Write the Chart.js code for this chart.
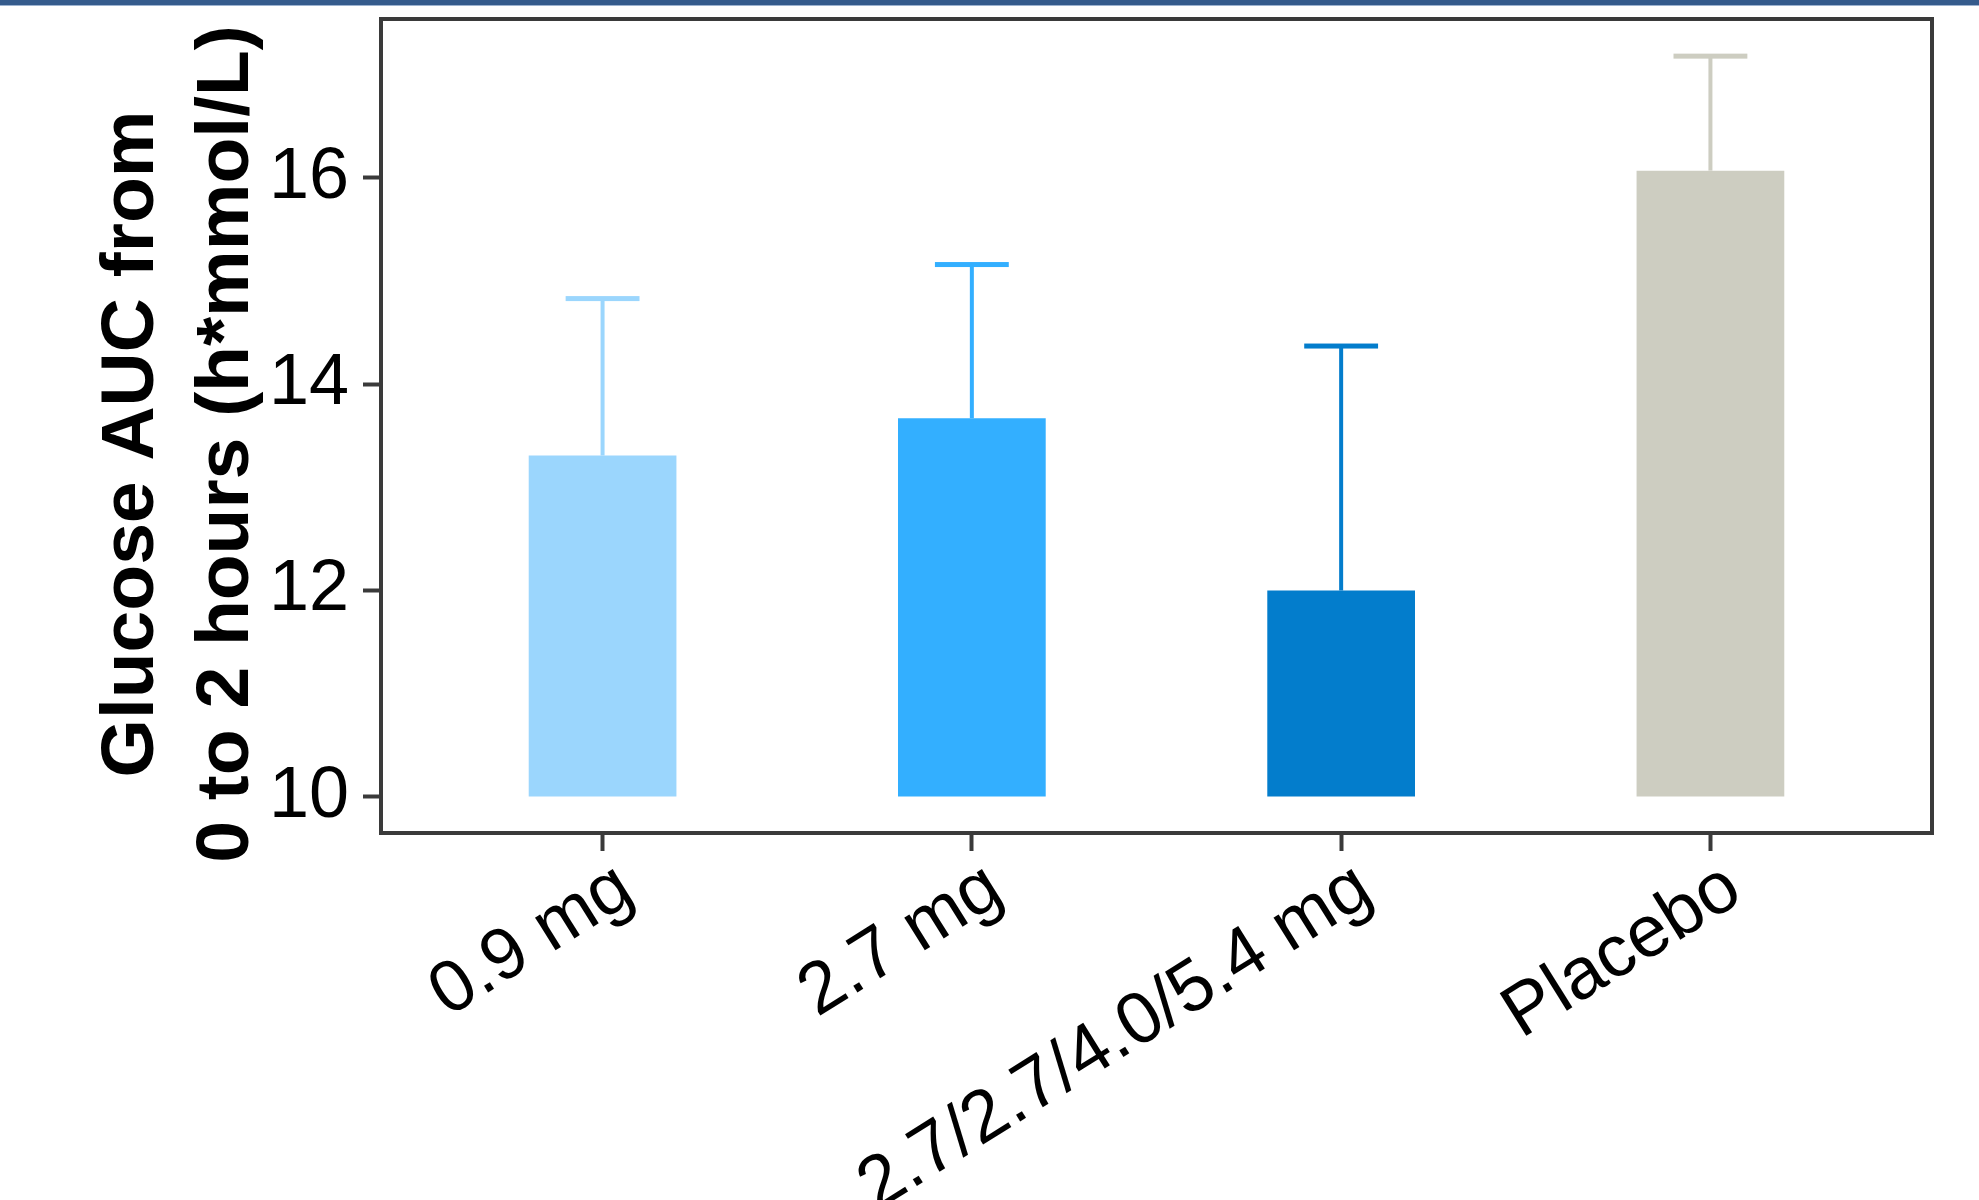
<!DOCTYPE html>
<html>
<head>
<meta charset="utf-8">
<script src="https://cdn.jsdelivr.net/npm/chart.js@4.4.1/dist/chart.umd.min.js"></script>
<style>
  html, body { margin: 0; padding: 0; background: #ffffff; }
  #wrap { position: relative; width: 1979px; height: 1200px; overflow: hidden; }
  #band { position: absolute; left: 0; top: 0; width: 1979px; height: 5px; background: #355b8c; border-bottom: 1px solid #9db3d0; z-index: 2; }
  canvas { position: absolute; left: 0; top: 0; }
</style>
</head>
<body>
<div id="wrap">
  <div id="band"></div>
  <canvas id="c" width="1979" height="1200"></canvas>
</div>
<script>
// ---- data ----
const categories = ['0.9 mg', '2.7 mg', '2.7/2.7/4.0/5.4 mg', 'Placebo'];
const meanValues = [13.31, 13.67, 12.00, 16.07];
const upperValues = [14.83, 15.16, 14.37, 17.18];
const barColors = ['#9bd6fd', '#33afff', '#037dcc', '#cdcdc1'];
const yTickValues = [10, 12, 14, 16];
const baseline = 10;
const yTitleLines = ['Glucose AUC from', '0 to 2 hours (h*mmol/L)'];

const FONT = "'Liberation Sans', Arial, Helvetica, sans-serif";
const AXIS = '#3a3a3a';

const errorBars = {
  id: 'errorBars',
  afterDatasetsDraw(chart) {
    const ctx = chart.ctx;
    const meta = chart.getDatasetMeta(0);
    const ys = chart.scales.y;
    ctx.save();
    meta.data.forEach((bar, i) => {
      const yTop = ys.getPixelForValue(upperValues[i]);
      const yBar = ys.getPixelForValue(meanValues[i]);
      const half = bar.width / 4;
      ctx.strokeStyle = barColors[i];
      ctx.fillStyle = barColors[i];
      ctx.lineWidth = 4;
      ctx.beginPath();
      ctx.moveTo(bar.x, yBar);
      ctx.lineTo(bar.x, yTop);
      ctx.stroke();
      ctx.fillRect(bar.x - half, yTop - 2.5, half * 2, 5);
    });
    ctx.restore();
  }
};

const frame = {
  id: 'frame',
  afterDraw(chart) {
    const {ctx, chartArea: a} = chart;
    ctx.save();
    ctx.strokeStyle = AXIS;
    ctx.lineWidth = 4;
    ctx.strokeRect(a.left, a.top, a.right - a.left, a.bottom - a.top);
    ctx.restore();
  }
};

// y-axis title, two bold lines, centred slightly below the plot centre as in the original
const yTitle = {
  id: 'yTitle',
  afterDraw(chart) {
    const {ctx, chartArea: a} = chart;
    const cy = (a.top + a.bottom) / 2 + 18;
    ctx.save();
    ctx.translate(0, cy);
    ctx.rotate(-Math.PI / 2);
    ctx.font = "bold 75px " + FONT;
    ctx.fillStyle = '#000000';
    ctx.textAlign = 'center';
    ctx.textBaseline = 'middle';
    ctx.fillText(yTitleLines[0], 0, 132);
    ctx.fillText(yTitleLines[1], 0, 227);
    ctx.restore();
  }
};

new Chart(document.getElementById('c'), {
  type: 'bar',
  data: {
    datasets: [{
      data: meanValues.map((v, i) => ({x: i, y: v})),
      backgroundColor: barColors,
      borderWidth: 0,
      base: baseline,
      barPercentage: 0.4,
      categoryPercentage: 1.0
    }]
  },
  options: {
    responsive: false,
    animation: false,
    devicePixelRatio: 1,
    layout: { padding: { top: 19, right: 47, left: 0, bottom: 0 } },
    plugins: { legend: { display: false }, tooltip: { enabled: false } },
    scales: {
      x: {
        type: 'linear',
        min: -0.6,
        max: 3.6,
        offset: false,
        afterBuildTicks: (s) => { s.ticks = categories.map((c, i) => ({value: i})); },
        afterFit: (s) => { s.height = 367; s.paddingLeft = 0; s.paddingRight = 0; },
        ticks: {
          autoSkip: false,
          minRotation: 32,
          maxRotation: 32,
          padding: -6,
          labelOffset: 24,
          color: '#000000',
          font: { family: FONT, size: 73 },
          callback: (v) => categories[v]
        },
        grid: { display: true, offset: false, drawOnChartArea: false, drawTicks: true, tickLength: 18, tickWidth: 4, tickColor: AXIS },
        border: { display: false }
      },
      y: {
        min: 9.65,
        max: 17.54,
        afterBuildTicks: (s) => { s.ticks = yTickValues.map(v => ({value: v})); },
        afterFit: (s) => { s.width = 381; s.paddingTop = 0; s.paddingBottom = 0; },
        ticks: {
          padding: 14,
          color: '#000000',
          font: { family: FONT, size: 72 }
        },
        grid: { display: true, drawOnChartArea: false, drawTicks: true, tickLength: 18, tickWidth: 4, tickColor: AXIS },
        border: { display: false },
        title: { display: false }
      }
    }
  },
  plugins: [errorBars, frame, yTitle]
});
</script>
</body>
</html>
